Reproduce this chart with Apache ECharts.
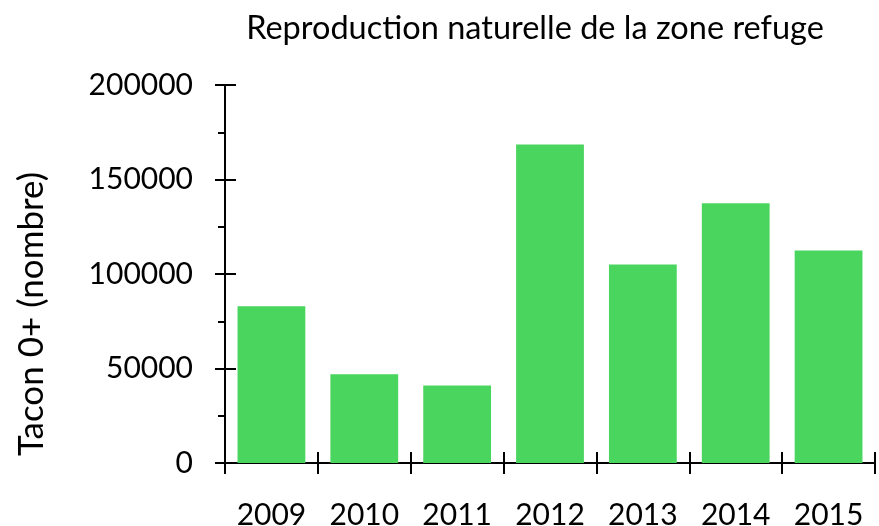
<!DOCTYPE html>
<html>
<head>
<meta charset="utf-8">
<script src="https://cdn.jsdelivr.net/npm/echarts@6/dist/echarts.min.js"></script>
<style>
  html, body { margin: 0; padding: 0; background: #fff; }
  #chart { width: 879px; height: 526px; }
</style>
</head>
<body>
<div id="chart"></div>
<script>
const years = ['2009', '2010', '2011', '2012', '2013', '2014', '2015'];
const tacons = [83000, 47000, 41000, 168500, 105000, 137500, 112500];

const font = 'Lato, "Open Sans", sans-serif';
const axisColor = '#000';

const chart = echarts.init(document.getElementById('chart'));
chart.setOption({
  animation: false,
  title: {
    text: 'Reproduction naturelle de la zone refuge',
    left: 530,
    textAlign: 'center',
    top: 7,
    textStyle: { fontFamily: font, fontSize: 32.5, fontWeight: 'normal', color: '#000' }
  },
  grid: { left: 225, right: 4, top: 85, bottom: 63, outerBoundsMode: 'none' },
  xAxis: [
    {
      type: 'category',
      data: years,
      axisLine: { lineStyle: { color: axisColor, width: 2 } },
      axisTick: { show: true, length: 11, lineStyle: { color: axisColor, width: 2 } },
      axisLabel: { fontFamily: font, fontSize: 30, color: '#000', margin: 37 }
    },
    {
      type: 'category',
      data: years,
      position: 'bottom',
      axisLine: { show: false },
      axisTick: { show: true, inside: true, length: 11, lineStyle: { color: axisColor, width: 2 } },
      axisLabel: { show: false }
    }
  ],
  yAxis: [
    {
      type: 'value',
      min: 0,
      max: 200000,
      interval: 50000,
      name: 'Tacon 0+ (nombre)',
      nameLocation: 'middle',
      nameGap: 176,
      nameTextStyle: { fontFamily: font, fontSize: 35, color: '#000', padding: [0, 80, 0, 0] },
      axisLine: { show: true, lineStyle: { color: axisColor, width: 2 } },
      axisTick: { show: true, length: 10, lineStyle: { color: axisColor, width: 2 } },
      minorTick: { show: true, splitNumber: 2, length: 7, lineStyle: { color: axisColor, width: 2 } },
      splitLine: { show: false },
      axisLabel: {
        fontFamily: font, fontSize: 30, color: '#000', margin: 32,
        formatter: v => String(v)
      }
    },
    {
      type: 'value',
      min: 0,
      max: 200000,
      interval: 50000,
      position: 'left',
      axisLine: { show: false },
      axisTick: { show: true, inside: true, length: 11, lineStyle: { color: axisColor, width: 2 } },
      splitLine: { show: false },
      axisLabel: { show: false }
    }
  ],
  series: [
    {
      type: 'bar',
      data: tacons,
      barCategoryGap: '27%',
      itemStyle: { color: '#49D55E' }
    }
  ]
});
</script>
</body>
</html>
